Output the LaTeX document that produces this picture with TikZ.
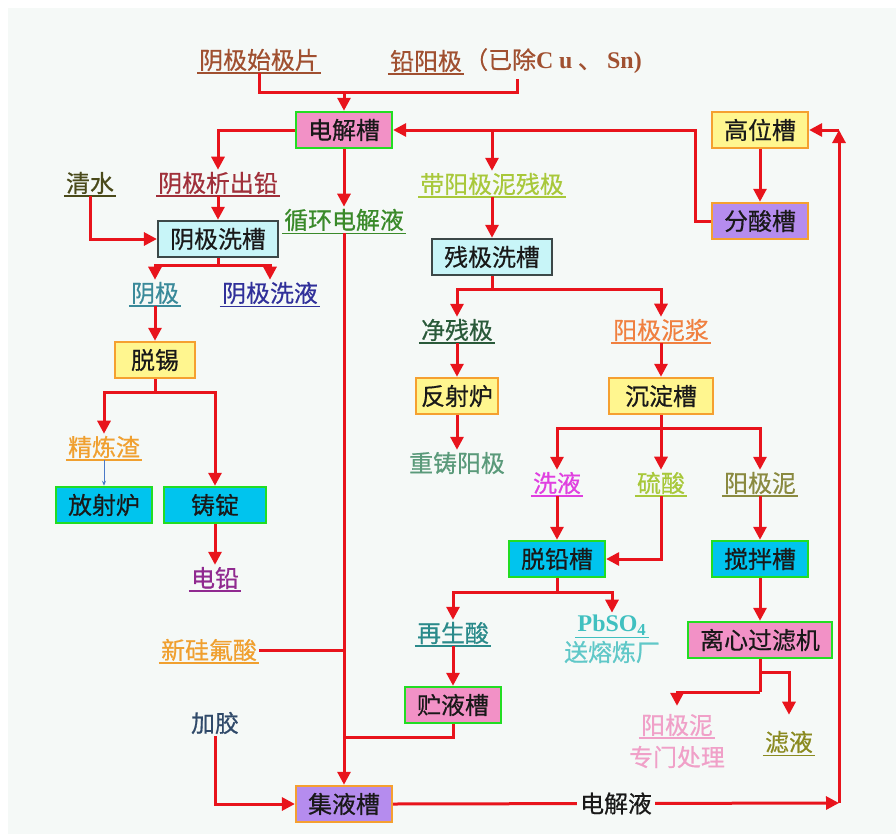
\documentclass[tikz,border=0pt]{standalone}
\usepackage{fontspec}
\setmainfont{Noto Sans CJK SC}[FakeBold=0.6]
\newfontfamily\lat{Liberation Serif}
\usetikzlibrary{arrows.meta}

\definecolor{bgc}{HTML}{F5F9F7}
\definecolor{redl}{HTML}{E8141C}
\definecolor{pinkf}{HTML}{F291C6}
\definecolor{greenb}{HTML}{22DD22}
\definecolor{yellowf}{HTML}{FFF68F}
\definecolor{orangeb}{HTML}{F5A030}
\definecolor{purplef}{HTML}{B58CEE}
\definecolor{cyanf}{HTML}{00C4EE}
\definecolor{lcyanf}{HTML}{C8F5F8}
\definecolor{greyb}{HTML}{3C4848}
\definecolor{brownt}{HTML}{A05030}
\definecolor{olivet}{HTML}{4A4A1A}
\definecolor{darkredt}{HTML}{A0303A}
\definecolor{tealt}{HTML}{3A8A9A}
\definecolor{navyt}{HTML}{30309A}
\definecolor{oranget}{HTML}{F0A030}
\definecolor{purplet}{HTML}{902A90}
\definecolor{greent}{HTML}{3A8A2A}
\definecolor{slatet}{HTML}{304A6A}
\definecolor{limet}{HTML}{A8C83A}
\definecolor{forestt}{HTML}{2A5A3A}
\definecolor{coralt}{HTML}{F08040}
\definecolor{saget}{HTML}{5A9A7A}
\definecolor{magentat}{HTML}{E040E0}
\definecolor{khakit}{HTML}{8A8A40}
\definecolor{cyant}{HTML}{2A8A8A}
\definecolor{aquat}{HTML}{40C0C0}
\definecolor{lightaquat}{HTML}{60C8C8}
\definecolor{pinkt}{HTML}{F0A0C8}
\definecolor{mosst}{HTML}{8A8A20}
\definecolor{thinblue}{HTML}{4A7AC8}

\tikzset{
  line/.style={draw=redl, line width=3bp},
  arr/.style={line, -{Triangle[length=13bp,width=13bp]}},
  thinarr/.style={draw=thinblue, line width=0.8bp, -{Stealth[length=5bp,width=4bp]}},
  box/.style={draw=#1, line width=2.5bp, minimum height=36bp, inner xsep=12bp, text=black!90},
  pinkbox/.style={box=greenb, fill=pinkf},
  yellowbox/.style={box=orangeb, fill=yellowf},
  purplebox/.style={box=orangeb, fill=purplef},
  cyanbox/.style={box=greenb, fill=cyanf},
  washbox/.style={box=greyb, fill=lcyanf},
  lbl/.style={text=#1, inner sep=2bp},
  ul/.style={lbl=#1, append after command={(\tikzlastnode.south west) edge[draw=#1, line width=1.6bp] (\tikzlastnode.south east)}}
}

\begin{document}
\begin{tikzpicture}[x=1bp, y=-1bp, font=\fontsize{24}{28}\selectfont]
  \useasboundingbox (0,0) rectangle (896,834);
  \fill[bgc] (8,8) rectangle (896,834);

  % feed and electrolysis
  \node[ul=brownt] (yjs) at (259,60) {阴极始极片};
  \node[ul=brownt] (qyj) at (426,61) {铅阳极};
  \node[lbl=brownt, anchor=west, inner xsep=0pt] (qyjx) at (qyj.east) {（已除{\lat\bfseries C u} 、 {\lat\bfseries Sn)}};
  \coordinate (qyjin) at (517,79);
  \coordinate (feed) at (344,92);
  \node[pinkbox] (djc) at (344,130) {电解槽};
  \node[yellowbox] (glc) at (760,130) {高位槽};
  \node[purplebox] (fsc) at (760,221) {分酸槽};
  \coordinate (ret) at (695,221);

  % cathode side
  \node[ul=olivet] (qs) at (90,183) {清水};
  \node[ul=darkredt] (yjxc) at (218,183) {阴极析出铅};
  \node[washbox] (yjxcao) at (218,239) {阴极洗槽};
  \coordinate (s1) at (218,265);
  \node[ul=tealt] (yj) at (155,293) {阴极};
  \node[ul=navyt] (yjxy) at (270,293) {阴极洗液};
  \node[yellowbox, minimum width=80bp] (tx) at (155,360) {脱锡};
  \coordinate (s2) at (155,392);
  \node[ul=oranget] (jlz) at (104,447) {精炼渣};
  \node[cyanbox] (fsl2) at (104,505) {放射炉};
  \node[cyanbox, minimum width=102bp] (zd) at (215,505) {铸锭};
  \node[ul=purplet] (dq) at (215,578) {电铅};

  % electrolyte loop
  \node[ul=greent] (xhdj) at (344,220) {循环电解液};
  \node[ul=oranget] (xgfs) at (209,650) {新硅氟酸};
  \node[lbl=slatet] (jj) at (215,723) {加胶};
  \node[purplebox] (jyc) at (344,804) {集液槽};
  \coordinate (rc) at (839,803);

  % anode side
  \node[ul=limet] (dyjn) at (492,184) {带阳极泥残极};
  \node[washbox] (cjxc) at (492,257) {残极洗槽};
  \coordinate (s4) at (492,289);
  \node[ul=forestt] (jcj) at (457,330) {净残极};
  \node[ul=coralt] (yjnj) at (661,330) {阳极泥浆};
  \node[yellowbox, inner xsep=5bp] (fsl) at (457,396) {反射炉};
  \node[yellowbox, minimum width=104bp] (cdc) at (661,396) {沉淀槽};
  \node[lbl=saget] (czyj) at (457,463) {重铸阳极};
  \coordinate (s5) at (661,428);
  \node[ul=magentat] (xy) at (557,483) {洗液};
  \node[ul=limet] (ls) at (661,483) {硫酸};
  \node[ul=khakit] (yjn) at (760,483) {阳极泥};
  \node[cyanbox] (tqc) at (557,559) {脱铅槽};
  \node[cyanbox] (jbc) at (760,559) {搅拌槽};
  \coordinate (s6) at (557,592);
  \node[ul=cyant] (zsl) at (453,633) {再生酸};
  \node[ul=aquat] (pbso) at (612,625) {\lat\bfseries PbSO\textsubscript{4}};
  \node[lbl=lightaquat] (srl) at (612,652) {送熔炼厂};
  \node[pinkbox] (zyc) at (453,705) {贮液槽};
  \coordinate (s3) at (453,737);
  \node[pinkbox] (lxgl) at (760,640) {离心过滤机};
  \coordinate (s7) at (760,672);
  \coordinate (s8) at (760,692);
  \node[ul=pinkt] (yjn2) at (677,725) {阳极泥};
  \node[lbl=pinkt] (zmcl) at (677,757) {专门处理};
  \node[ul=mosst] (ly) at (789,742) {滤液};

  % connectors
  \draw[line] (yjs.south) -- (yjs.south |- feed) -- (qyjin |- feed) -- (qyjin);
  \draw[arr] (feed) -- (djc.north);
  \draw[arr] (fsc.west) -- (ret) |- (djc.east);
  \draw[arr] (dyjn.north |- djc.east) -- (dyjn.north);
  \draw[arr] (glc) -- (fsc);
  \draw[arr] (jyc.east) -- node[fill=bgc, inner xsep=3bp, text=black!90] (djy) {电解液} (rc);
  \draw[arr] (rc) -- (rc |- glc.east);
  \draw[arr] (rc |- glc.east) -- (glc.east);

  \draw[arr] (djc.west) -| (yjxc.north);
  \draw[arr] (qs.south) |- (yjxcao.west);
  \draw[arr] (yjxc.south) -- (yjxcao.north);
  \draw[line] (yjxcao.south) -- (s1);
  \draw[arr] (s1) -| (yj.north);
  \draw[arr] (s1) -| (yjxy.north);
  \draw[arr] (yj.south) -- (tx.north);
  \draw[line] (tx.south) -- (s2);
  \draw[arr] (s2) -| (jlz.north);
  \draw[arr] (s2) -| (zd.north);
  \draw[thinarr] (jlz.south) -- (fsl2.north);
  \draw[arr] (zd.south) -- (dq.north);

  \draw[arr] (djc.south) -- (xhdj.north);
  \draw[arr] (xhdj.south) -- (jyc.north);
  \draw[line] (xgfs.east) -- (xgfs.east -| jyc.north);
  \draw[arr] (jj.south) |- (jyc.west);
  \draw[line] (zyc.south) -- (s3) -- (s3 -| jyc.north);

  \draw[arr] (dyjn.south) -- (cjxc.north);
  \draw[line] (cjxc.south) -- (s4);
  \draw[arr] (s4) -| (jcj.north);
  \draw[arr] (s4) -| (yjnj.north);
  \draw[arr] (jcj.south) -- (fsl.north);
  \draw[arr] (fsl.south) -- (czyj.north);
  \draw[arr] (yjnj.south) -- (cdc.north);
  \draw[arr] (cdc.south) -- (ls.north);
  \draw[arr] (s5) -| (xy.north);
  \draw[arr] (s5) -| (yjn.north);
  \draw[arr] (xy.south) -- (tqc.north);
  \draw[arr] (ls.south) |- (tqc.east);
  \draw[arr] (yjn.south) -- (jbc.north);
  \draw[line] (tqc.south) -- (s6);
  \draw[arr] (s6) -| (zsl.north);
  \draw[arr] (s6) -| (pbso.north);
  \draw[arr] (zsl.south) -- (zyc.north);
  \draw[arr] (jbc.south) -- (lxgl.north);
  \draw[line] (lxgl.south) -- (s8);
  \draw[arr, shorten >=6bp] (s8) -| (yjn2.north);
  \draw[arr, shorten >=14bp] (s7) -| (ly.north);
\end{tikzpicture}
\end{document}
